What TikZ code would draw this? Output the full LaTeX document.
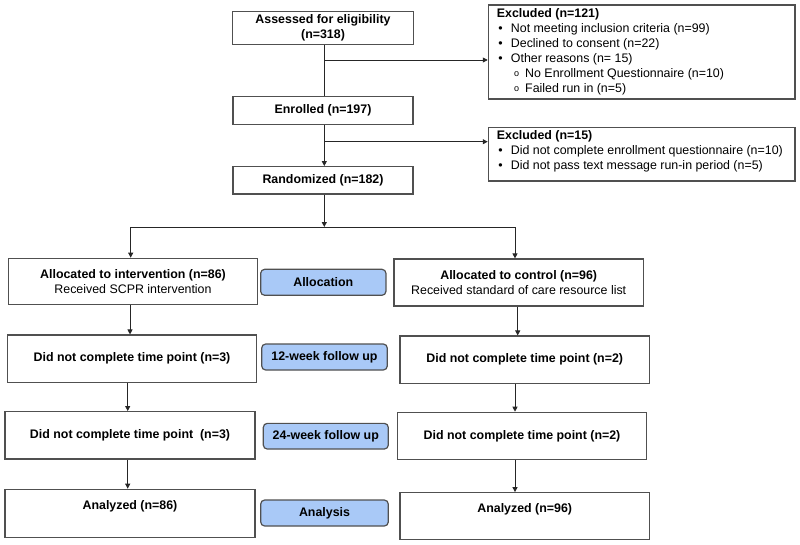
\documentclass[tikz,border=0pt]{standalone}
\usepackage{fontspec}
\setmainfont{Liberation Sans}
\usetikzlibrary{arrows.meta}
\definecolor{boxline}{HTML}{505050}
\definecolor{bluefill}{HTML}{A9C9F7}
\tikzset{
  every node/.style={font=\fontsize{12.4}{15}\selectfont},
  box/.style={draw=boxline, line width=1.2pt, inner sep=0pt, align=center},
  phase/.style={draw=boxline, fill=bluefill, line width=1.2pt, rounded corners=4pt, inner sep=0pt, align=center, font=\fontsize{12.4}{15}\selectfont\bfseries},
  conn/.style={draw=black!85, line width=0.9pt},
  arr/.style={conn, -{Triangle[length=5pt,width=5pt]}},
  txt/.style={inner sep=0pt, align=center}
}
\newcommand{\bul}{\makebox[14pt][l]{\hspace{1.4pt}•}}
\newcommand{\subbul}{\hspace*{17.3pt}\makebox[11pt][l]{\raisebox{0.5pt}{\fontsize{9}{9}\selectfont o}}}
\begin{document}
\begin{tikzpicture}[x=1pt,y=-1pt]
\useasboundingbox (0,0) rectangle (800,544);
% top column
\node[box, minimum width=180.6pt, minimum height=32.6pt, font=\fontsize{12.4}{15}\selectfont\bfseries] (assess) at (323,28) {Assessed for eligibility\\(n=318)};
\node[box, minimum width=180pt, minimum height=27.6pt, font=\fontsize{12.4}{15}\selectfont\bfseries] (enrol) at (323,110.5) {Enrolled (n=197)};
\node[box, minimum width=180pt, minimum height=27.3pt, font=\fontsize{12.4}{15}\selectfont\bfseries] (rand) at (323,180.3) {Randomized (n=182)};
% excluded boxes
\node[box, minimum width=306.7pt, minimum height=94pt] (ex1) at (641.7,52) {};
\node[txt, align=left, anchor=west] (ex1t) at (496.7,51.7) {\textbf{Excluded (n=121)}\\
\bul Not meeting inclusion criteria (n=99)\\
\bul Declined to consent (n=22)\\
\bul Other reasons (n= 15)\\
\subbul No Enrollment Questionnaire (n=10)\\
\subbul Failed run in (n=5)};
\node[box, minimum width=306.7pt, minimum height=53.3pt] (ex2) at (641.7,154.3) {};
\node[txt, align=left, anchor=west] (ex2t) at (496.7,151) {\textbf{Excluded (n=15)}\\
\bul Did not complete enrollment questionnaire (n=10)\\
\bul Did not pass text message run-in period (n=5)};
% allocation row
\node[box, minimum width=249.4pt, minimum height=46pt] (allocL) at (133,281.3) {\textbf{Allocated to intervention (n=86)}\\Received SCPR intervention};
\node[phase, minimum width=125.3pt, minimum height=26pt] (pAlloc) at (323.3,282.3) {Allocation};
\node[box, minimum width=249.3pt, minimum height=47pt] (allocR) at (518.7,282.5) {\textbf{Allocated to control (n=96)}\\Received standard of care resource list};
% 12-week row
\node[box, minimum width=249.4pt, minimum height=47.3pt, font=\fontsize{12.4}{15}\selectfont\bfseries] (dncL1) at (132,358.7) {Did not complete time point (n=3)};
\node[phase, minimum width=125.6pt, minimum height=26pt] (p12) at (324.5,357) {12-week follow up};
\node[box, minimum width=249.3pt, minimum height=47.3pt, font=\fontsize{12.4}{15}\selectfont\bfseries] (dncR1) at (524.7,359.7) {Did not complete time point (n=2)};
% 24-week row
\node[box, minimum width=250pt, minimum height=47.3pt, font=\fontsize{12.4}{15}\selectfont\bfseries] (dncL2) at (130,435.3) {Did not complete time point\ \ (n=3)};
\node[phase, minimum width=125pt, minimum height=25.7pt] (p24) at (325.8,436.2) {24-week follow up};
\node[box, minimum width=249.4pt, minimum height=47pt, font=\fontsize{12.4}{15}\selectfont\bfseries] (dncR2) at (522,435.8) {Did not complete time point (n=2)};
% analysis row
\node[box, minimum width=250pt, minimum height=48pt] (anL) at (130,513.3) {};
\node[txt, font=\fontsize{12.4}{15}\selectfont\bfseries] (anLt) at (130,506) {Analyzed (n=86)};
\node[phase, minimum width=127.6pt, minimum height=26pt] (pAn) at (324.5,513) {Analysis};
\node[box, minimum width=249.3pt, minimum height=46.6pt] (anR) at (524.7,516) {};
\node[txt, font=\fontsize{12.4}{15}\selectfont\bfseries] (anRt) at (524.7,509.3) {Analyzed (n=96)};
% connectors top
\coordinate (b1) at (324.3,60);
\coordinate (b2) at (324.3,141.7);
\coordinate (split) at (324.3,227);
\coordinate (splitL) at (130.7,227);
\coordinate (splitR) at (515,227);
\draw[conn] (assess.south -| b1) -- (enrol.north -| b1);
\draw[arr] (b1) -- (b1 -| ex1.west);
\draw[arr] (enrol.south -| b2) -- (rand.north -| b2);
\draw[arr] (b2) -- (b2 -| ex2.west);
\draw[arr] (rand.south -| split) -- (split);
\draw[conn] (splitL) -- (splitR);
\draw[arr] (splitL) -- (splitL |- allocL.north);
\draw[arr] (splitR) -- (splitR |- allocR.north);
% left column
\draw[arr] (allocL.south -| 130,0) -- (dncL1.north -| 130,0);
\draw[arr] (dncL1.south -| 127.7,0) -- (dncL2.north -| 127.7,0);
\draw[arr] (dncL2.south -| 127.7,0) -- (anL.north -| 127.7,0);
% right column
\draw[arr] (allocR.south -| 517.7,0) -- (dncR1.north -| 517.7,0);
\draw[arr] (dncR1.south -| 515,0) -- (dncR2.north -| 515,0);
\draw[arr] (dncR2.south -| 515,0) -- (anR.north -| 515,0);
\end{tikzpicture}
\end{document}
